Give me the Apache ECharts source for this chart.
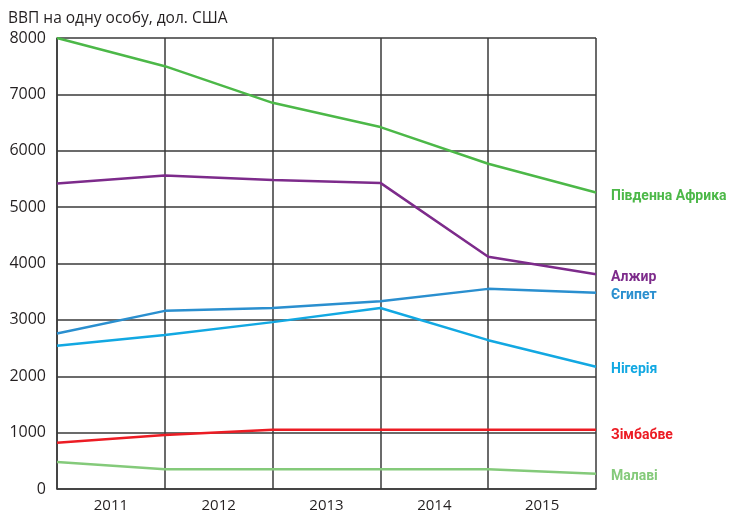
<!DOCTYPE html>
<html>
<head>
<meta charset="utf-8">
<script src="https://cdn.jsdelivr.net/npm/echarts@6/dist/echarts.min.js"></script>
<style>
  html, body { margin: 0; padding: 0; background: #fff; }
  #chart { width: 729px; height: 513px; }
</style>
</head>
<body>
<div id="chart"></div>
<script>
// Year labels shown under the axis (one per interval)
const yearLabels = ['2011', '2012', '2013', '2014', '2015'];
// Measurement points sit on the interval boundaries
const pointSlots = ['0', '1', '2', '3', '4', '5'];

// GDP per capita, USD
const southAfrica = [8000, 7500, 6850, 6420, 5770, 5260];
const algeria     = [5420, 5560, 5480, 5430, 4120, 3810];
const egypt       = [2760, 3160, 3210, 3330, 3550, 3480];
const nigeria     = [2540, 2730, 2960, 3210, 2640, 2170];
const zimbabwe    = [820, 960, 1050, 1050, 1050, 1050];
const malawi      = [480, 350, 350, 350, 350, 270];

const names = ['Південна Африка', 'Алжир', 'Єгипет', 'Нігерія', 'Зімбабве', 'Малаві'];
const colors = ['#4cb848', '#7d2b8b', '#2a8fcf', '#12a8e2', '#ec1c24', '#84ca7a'];
const values = [southAfrica, algeria, egypt, nigeria, zimbabwe, malawi];
// small vertical nudges for the right-hand series labels
const labelShift = [4, 3, 3, 3, 6, 3];

const textColor = '#231f20';
const gridColor = '#3a3a3a';

const chart = echarts.init(document.getElementById('chart'));

const series = values.map((v, i) => ({
  name: names[i],
  type: 'line',
  xAxisIndex: 0,
  data: v,
  symbol: 'none',
  smooth: false,
  lineStyle: { color: colors[i], width: 2.5 },
  endLabel: {
    show: true,
    formatter: names[i],
    distance: 15,
    offset: [0, labelShift[i]],
    color: colors[i],
    fontFamily: 'Roboto, "Liberation Sans", sans-serif',
    fontWeight: 'bold',
    fontSize: 14
  }
}));

chart.setOption({
  animation: false,
  title: {
    text: 'ВВП на одну особу, дол. США',
    left: 3,
    top: 6,
    textStyle: {
      fontFamily: '"Open Sans", sans-serif',
      fontWeight: 'normal',
      fontSize: 15.5,
      color: textColor
    }
  },
  grid: { left: 57, right: 133, top: 38, bottom: 23 },
  xAxis: [
    {
      type: 'category',
      data: pointSlots,
      boundaryGap: false,
      axisLine: { show: true, lineStyle: { color: gridColor, width: 1.5 } },
      axisTick: { show: false },
      axisLabel: { show: false },
      splitLine: { show: true, lineStyle: { color: gridColor, width: 1.5 } }
    },
    {
      type: 'category',
      data: yearLabels,
      position: 'bottom',
      boundaryGap: true,
      axisLine: { show: false },
      axisTick: { show: false },
      splitLine: { show: false },
      axisLabel: {
        margin: 9,
        fontFamily: '"Open Sans", sans-serif',
        fontSize: 15,
        color: textColor
      }
    }
  ],
  yAxis: {
    type: 'value',
    min: 0,
    max: 8000,
    interval: 1000,
    axisLine: { show: true, lineStyle: { color: gridColor, width: 1.5 } },
    axisTick: { show: false },
    splitLine: { show: true, lineStyle: { color: gridColor, width: 1.5 } },
    axisLabel: {
      margin: 11,
      formatter: (val) => String(val),
      fontFamily: '"Open Sans", sans-serif',
      fontSize: 16,
      color: textColor
    }
  },
  series: series
});
</script>
</body>
</html>
